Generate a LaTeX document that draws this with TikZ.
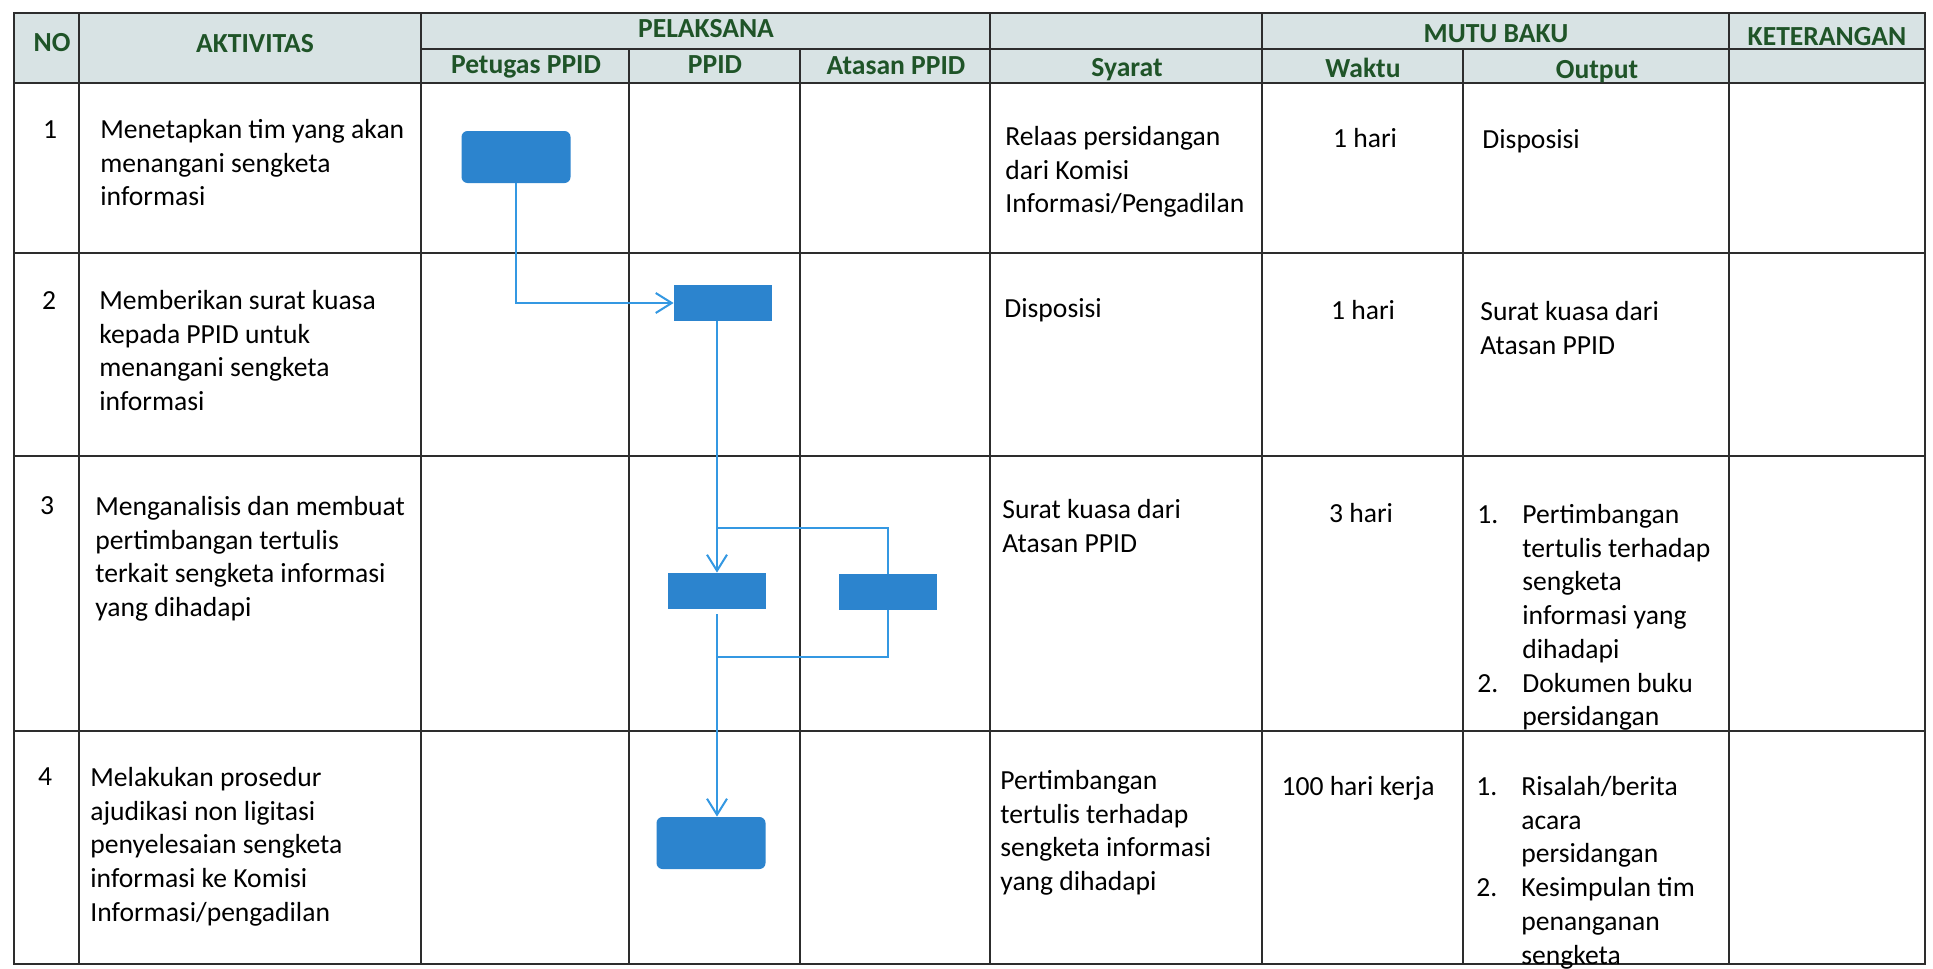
\documentclass[tikz,border=0pt]{standalone}
\usepackage{fontspec}
\setmainfont{Carlito}
\usetikzlibrary{arrows.meta}
\definecolor{kepala}{RGB}{216,227,228}
\definecolor{hijau}{RGB}{31,84,40}
\definecolor{kotak}{RGB}{44,132,206}
\definecolor{alur}{RGB}{52,152,226}
\definecolor{garis}{RGB}{45,45,45}
\newcommand{\isi}{\fontsize{13.8}{16.85}\selectfont}
\newcommand{\judul}{\fontsize{13.8}{16.85}\selectfont\bfseries}
\newcommand{\nomor}[1]{\makebox[22.5pt][l]{#1}}

\begin{document}
\begin{tikzpicture}[x=0.5pt, y=-0.5pt,
	>={Straight Barb[length=8pt,width=10pt]},
	hd/.style={anchor=base, inner sep=0pt, font=\judul, text=hijau},
	teks/.style={anchor=north west, inner sep=0pt, align=left, font=\isi, execute at begin node=\strut},
	tengah/.style={teks, anchor=north, align=center},
	proses/.style={fill=kotak, draw=none, minimum width=49pt, minimum height=18pt, inner sep=0pt},
	mulai/.style={proses, rounded corners=3pt, minimum width=54.5pt, minimum height=26pt},
	alir/.style={draw=alur, line width=1pt},
	tabel/.style={draw=garis, line width=0.7pt}]
		\fill[white] (0,0) rectangle (1933,969);
		\useasboundingbox (0,0) rectangle (1933,969);
		\filldraw[fill=kepala, tabel] (14,13) rectangle (1925,83);
		\draw[tabel] (421,49) -- (1925,49);
		\draw[tabel] (14,83) rectangle (1925,964);
		\foreach \y in {253,456,731} \draw[tabel] (14,\y) -- (1925,\y);
		\foreach \x in {79,421,990,1262,1729} \draw[tabel] (\x,13) -- (\x,964);
		\foreach \x in {629,800,1463} \draw[tabel] (\x,49) -- (\x,964);
		\node[hd] (hno) at (52,51) {NO};
		\node[hd] (hakt) at (255,52) {AKTIVITAS};
		\node[hd] (hpel) at (706,38) {PELAKSANA};
		\node[hd] (hpet) at (526,73) {Petugas PPID};
		\node[hd] (hppid) at (715,73) {PPID};
		\node[hd] (hatas) at (896,74) {Atasan PPID};
		\node[hd] (hsya) at (1127,76) {Syarat};
		\node[hd] (hmutu) at (1496,42) {MUTU BAKU};
		\node[hd] (hwak) at (1363,77) {Waktu};
		\node[hd] (hout) at (1597,78) {Output};
		\node[hd] (hket) at (1827,46) {KETERANGAN};
		\node[tengah] (no1) at (50,115) {1};
		\node[teks] (akt1) at (100,119) {Menetapkan tim yang akan\\menangani sengketa\\informasi};
		\node[teks] (sya1) at (1005,126) {Relaas persidangan\\dari Komisi\\Informasi/Pengadilan};
		\node[tengah] (wak1) at (1365,124) {1 hari};
		\node[teks] (out1) at (1482,125) {Disposisi};
		\node[tengah] (no2) at (49,286) {2};
		\node[teks] (akt2) at (99,290) {Memberikan surat kuasa\\kepada PPID untuk\\menangani sengketa\\informasi};
		\node[teks] (sya2) at (1004,294) {Disposisi};
		\node[tengah] (wak2) at (1363,296) {1 hari};
		\node[teks] (out2) at (1480,301) {Surat kuasa dari\\Atasan PPID};
		\node[tengah] (no3) at (47,491) {3};
		\node[teks] (akt3) at (95,496) {Menganalisis dan membuat\\pertimbangan tertulis\\terkait sengketa informasi\\yang dihadapi};
		\node[teks] (sya3) at (1002,499) {Surat kuasa dari\\Atasan PPID};
		\node[tengah] (wak3) at (1361,499) {3 hari};
		\node[teks] (out3) at (1477,504) {\nomor{1.}Pertimbangan\\\nomor{}tertulis terhadap\\\nomor{}sengketa\\\nomor{}informasi yang\\\nomor{}dihadapi\\\nomor{2.}Dokumen buku\\\nomor{}persidangan};
		\node[tengah] (no4) at (45,762) {4};
		\node[teks] (akt4) at (90,767) {Melakukan prosedur\\ajudikasi non ligitasi\\penyelesaian sengketa\\informasi ke Komisi\\Informasi/pengadilan};
		\node[teks] (sya4) at (1000,770) {Pertimbangan\\tertulis terhadap\\sengketa informasi\\yang dihadapi};
		\node[tengah] (wak4) at (1358,772) {100 hari kerja};
		\node[teks] (out4) at (1476,776) {\nomor{1.}Risalah/berita\\\nomor{}acara\\\nomor{}persidangan\\\nomor{2.}Kesimpulan tim\\\nomor{}penanganan\\\nomor{}sengketa};
		\node[mulai] (tim) at (516,157) {};
		\node[proses] (kuasa) at (723,303) {};
		\node[proses] (analisis) at (717,591) {};
		\node[proses] (telaah) at (888,592) {};
		\node[mulai] (ajudikasi) at (711,843) {};
		\coordinate (pisah) at (717,528);
		\coordinate (gabung) at (717,657);
		\draw[alir,->] (tim.south) |- (kuasa.west);
		\draw[alir,->] (kuasa.south -| analisis.north) -- (analisis.north);
		\draw[alir] (pisah) -| (telaah.north);
		\draw[alir] (telaah.south) |- (gabung);
		\draw[alir,->,shorten <=2.5pt] (analisis.south) -- (analisis.south |- ajudikasi.north);
	\end{tikzpicture}
\end{document}
